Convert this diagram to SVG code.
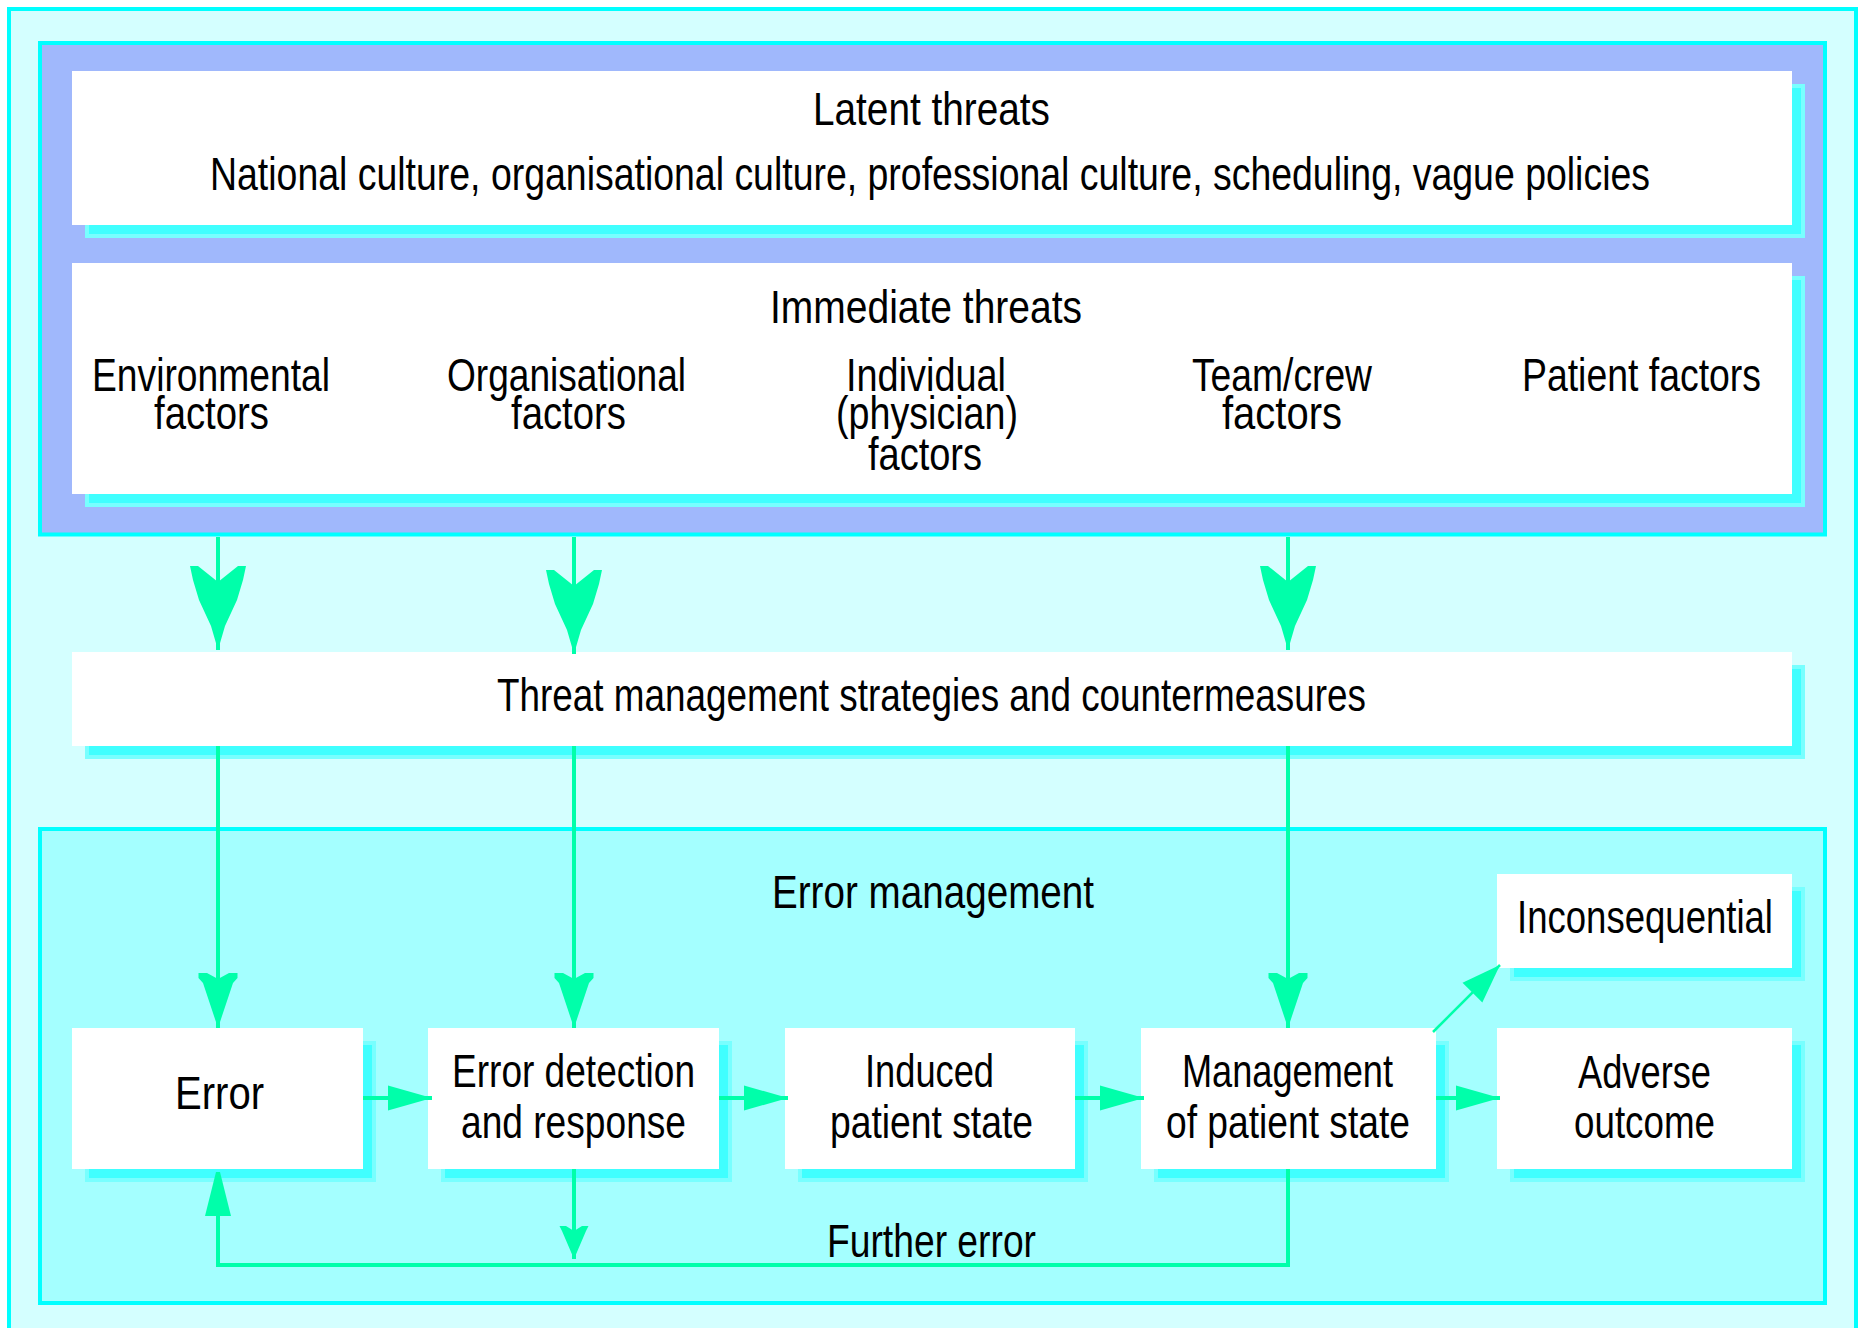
<svg xmlns="http://www.w3.org/2000/svg" width="1858" height="1328" viewBox="0 0 1858 1328">
<style>
.frame{fill:#d4ffff;stroke:#00ffff;stroke-width:4}
.blue{fill:#a0b8fc;stroke:#00ffff;stroke-width:4}
.emp{fill:#a4ffff;stroke:#00ffff;stroke-width:4}
.box{fill:#ffffff}
.sh1{fill:#78ffff}
.sh2{fill:#40ffff}
.t{font-family:"Liberation Sans",Arial,sans-serif;font-size:47px;fill:#000}
.ln{fill:none;stroke:#00ffaa;stroke-width:4}
.thin{fill:none;stroke:#00ffaa;stroke-width:2.5}
.ah{fill:#00ffaa}
</style>
<defs>
<marker id="bigV" markerUnits="userSpaceOnUse" orient="auto" refX="0" refY="0" markerWidth="100" markerHeight="100" overflow="visible"><path class="ah" d="M0,0 L-24,-7 L-50,-19 L-70,-25 L-84,-28 L-84,-20 L-68,0 L-84,20 L-84,28 L-70,25 L-50,19 L-24,7 Z"/></marker>
<marker id="smallV" markerUnits="userSpaceOnUse" orient="auto" refX="0" refY="0" markerWidth="100" markerHeight="100" overflow="visible"><path class="ah" d="M0,0 L-45,-15 L-50,-19.5 L-55,-19.5 L-55,-11 L-49,0 L-55,11 L-55,19.5 L-50,19.5 L-45,15 Z"/></marker>
<marker id="midV" markerUnits="userSpaceOnUse" orient="auto" refX="0" refY="0" markerWidth="100" markerHeight="100" overflow="visible"><path class="ah" d="M0,0 L-28,-12 L-33,-14.5 L-33,-8 L-28,0 L-33,8 L-33,14.5 L-28,12 Z"/></marker>
<marker id="hArrow" markerUnits="userSpaceOnUse" orient="auto" refX="0" refY="0" markerWidth="100" markerHeight="100" overflow="visible"><path class="ah" d="M0,0 L-44,-12.5 L-44,12.5 Z"/></marker>
<marker id="upArrow" markerUnits="userSpaceOnUse" orient="auto" refX="0" refY="0" markerWidth="100" markerHeight="100" overflow="visible"><path class="ah" d="M0,-2 L-44,-13 L-44,13 L0,2 Z"/></marker>
<marker id="diagArrow" markerUnits="userSpaceOnUse" orient="auto" refX="0" refY="0" markerWidth="100" markerHeight="100" overflow="visible"><path class="ah" d="M0,0 L-39,-14 L-39,14 Z"/></marker>
</defs>
<rect width="1858" height="1328" fill="#ffffff"/>
<rect class="frame" x="9" y="9" width="1847" height="1340"/>

<g id="threats-panel">
<rect class="blue" x="40" y="43" width="1785" height="491.5"/>
</g>

<g id="latent-threats">
<rect class="sh1" x="85" y="84" width="1720" height="154"/>
<rect class="sh2" x="89" y="88" width="1712" height="146"/>
<rect class="box" x="72" y="71" width="1720" height="154"/>
<text class="t" x="813" y="125" textLength="237" lengthAdjust="spacingAndGlyphs">Latent threats</text>
<text class="t" x="210" y="190" textLength="1440" lengthAdjust="spacingAndGlyphs">National culture, organisational culture, professional culture, scheduling, vague policies</text>
</g>

<g id="immediate-threats">
<rect class="sh1" x="85" y="276" width="1720" height="231"/>
<rect class="sh2" x="89" y="280" width="1712" height="223"/>
<rect class="box" x="72" y="263" width="1720" height="231"/>
<text class="t" x="770" y="323" textLength="312" lengthAdjust="spacingAndGlyphs">Immediate threats</text>
<text class="t" x="92" y="391" textLength="238" lengthAdjust="spacingAndGlyphs">Environmental</text>
<text class="t" x="154" y="429" textLength="115" lengthAdjust="spacingAndGlyphs">factors</text>
<text class="t" x="447" y="391" textLength="239" lengthAdjust="spacingAndGlyphs">Organisational</text>
<text class="t" x="511" y="429" textLength="115" lengthAdjust="spacingAndGlyphs">factors</text>
<text class="t" x="846" y="391" textLength="160" lengthAdjust="spacingAndGlyphs">Individual</text>
<text class="t" x="836" y="429" textLength="182" lengthAdjust="spacingAndGlyphs">(physician)</text>
<text class="t" x="868" y="470" textLength="114" lengthAdjust="spacingAndGlyphs">factors</text>
<text class="t" x="1192" y="391" textLength="180" lengthAdjust="spacingAndGlyphs">Team/crew</text>
<text class="t" x="1222" y="429" textLength="120" lengthAdjust="spacingAndGlyphs">factors</text>
<text class="t" x="1522" y="391" textLength="239" lengthAdjust="spacingAndGlyphs">Patient factors</text>
</g>

<g id="threat-management">
<rect class="sh1" x="85" y="665" width="1720" height="94"/>
<rect class="sh2" x="89" y="669" width="1712" height="86"/>
<rect class="box" x="72" y="652" width="1720" height="94"/>
<text class="t" x="497" y="711" textLength="869" lengthAdjust="spacingAndGlyphs">Threat management strategies and countermeasures</text>
</g>

<g id="error-management">
<rect class="emp" x="40" y="829" width="1785" height="474"/>
<text class="t" x="772" y="908" textLength="322" lengthAdjust="spacingAndGlyphs">Error management</text>
</g>

<g id="inconsequential">
<rect class="sh1" x="1510" y="887" width="295" height="94"/>
<rect class="sh2" x="1514" y="891" width="287" height="86"/>
<rect class="box" x="1497" y="874" width="295" height="94"/>
<text class="t" x="1517" y="933" textLength="256" lengthAdjust="spacingAndGlyphs">Inconsequential</text>
</g>

<g id="error">
<rect class="sh1" x="85" y="1041" width="291" height="141"/>
<rect class="sh2" x="89" y="1045" width="283" height="133"/>
<rect class="box" x="72" y="1028" width="291" height="141"/>
<text class="t" x="175" y="1109" textLength="89" lengthAdjust="spacingAndGlyphs">Error</text>
</g>

<g id="error-detection">
<rect class="sh1" x="441" y="1041" width="291" height="141"/>
<rect class="sh2" x="445" y="1045" width="283" height="133"/>
<rect class="box" x="428" y="1028" width="291" height="141"/>
<text class="t" x="452" y="1087" textLength="243" lengthAdjust="spacingAndGlyphs">Error detection</text>
<text class="t" x="461" y="1138" textLength="225" lengthAdjust="spacingAndGlyphs">and response</text>
</g>

<g id="induced-patient-state">
<rect class="sh1" x="798" y="1041" width="290" height="141"/>
<rect class="sh2" x="802" y="1045" width="282" height="133"/>
<rect class="box" x="785" y="1028" width="290" height="141"/>
<text class="t" x="865" y="1087" textLength="129" lengthAdjust="spacingAndGlyphs">Induced</text>
<text class="t" x="830" y="1138" textLength="203" lengthAdjust="spacingAndGlyphs">patient state</text>
</g>

<g id="management-patient-state">
<rect class="sh1" x="1154" y="1041" width="295" height="141"/>
<rect class="sh2" x="1158" y="1045" width="287" height="133"/>
<rect class="box" x="1141" y="1028" width="295" height="141"/>
<text class="t" x="1182" y="1087" textLength="211" lengthAdjust="spacingAndGlyphs">Management</text>
<text class="t" x="1166" y="1138" textLength="244" lengthAdjust="spacingAndGlyphs">of patient state</text>
</g>

<g id="adverse-outcome">
<rect class="sh1" x="1510" y="1041" width="295" height="141"/>
<rect class="sh2" x="1514" y="1045" width="287" height="133"/>
<rect class="box" x="1497" y="1028" width="295" height="141"/>
<text class="t" x="1578" y="1088" textLength="133" lengthAdjust="spacingAndGlyphs">Adverse</text>
<text class="t" x="1574" y="1138" textLength="141" lengthAdjust="spacingAndGlyphs">outcome</text>
</g>

<g id="connectors">
<path class="ln" d="M218,537 L218,650" marker-end="url(#bigV)"/>
<path class="ln" d="M574,537 L574,654" marker-end="url(#bigV)"/>
<path class="ln" d="M1288,537 L1288,650" marker-end="url(#bigV)"/>
<path class="ln" d="M218,746 L218,1028" marker-end="url(#smallV)"/>
<path class="ln" d="M574,746 L574,1028" marker-end="url(#smallV)"/>
<path class="ln" d="M1288,746 L1288,1028" marker-end="url(#smallV)"/>
<path class="ln" d="M363,1098 L432,1098" marker-end="url(#hArrow)"/>
<path class="ln" d="M719,1098 L788,1098" marker-end="url(#hArrow)"/>
<path class="ln" d="M1075,1098 L1144,1098" marker-end="url(#hArrow)"/>
<path class="ln" d="M1436,1098 L1500,1098" marker-end="url(#hArrow)"/>
<path class="thin" d="M1433,1032 L1500,965" marker-end="url(#diagArrow)"/>
<path class="ln" d="M574,1169 L574,1259" marker-end="url(#midV)"/>
<path class="ln" d="M1288,1169 L1288,1265 L218,1265 L218,1172" marker-end="url(#upArrow)"/>
<text class="t" x="827" y="1257" textLength="209" lengthAdjust="spacingAndGlyphs">Further error</text>
</g>
</svg>
